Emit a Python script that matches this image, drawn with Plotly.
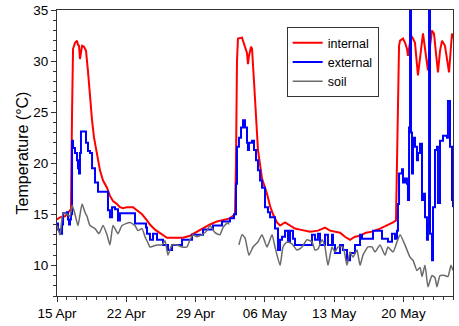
import plotly.graph_objects as go
import pandas as pd

START = pd.Timestamp("2013-04-15")

# internal temperature (days since 15 Apr, degC)
int_day = [0, 0.30, 0.81, 1.31, 1.41, 1.52, 1.62, 1.82, 2.02, 2.12,
           2.22, 2.32, 2.42, 2.53, 2.73, 2.93, 3.13, 3.33, 3.54, 3.74,
           4.04, 4.34, 4.65, 5.05, 5.35, 5.66, 6.06, 6.36, 6.67, 7.07,
           7.68, 8.08, 8.59, 9.09, 9.39, 9.90, 10.40, 10.71, 11.11, 11.41,
           12.73, 13.43, 14.14, 14.95, 15.45, 16.16, 16.97, 17.47, 17.98, 18.08,
           18.18, 18.28, 18.69, 18.99, 19.19, 19.29, 19.39, 19.60, 19.70, 19.90,
           20.10, 20.30, 20.71, 21.21, 21.52, 21.82, 22.22, 22.53, 23.03, 23.54,
           24.04, 24.55, 25.56, 26.36, 27.07, 27.58, 28.59, 29.09, 29.60, 30.10,
           30.61, 31.21, 31.82, 32.63, 33.33, 33.94, 34.24, 34.34, 34.44, 34.55,
           34.65, 34.95, 35.15, 35.35, 35.45, 35.66, 35.76, 35.96, 36.16, 36.46,
           36.77, 36.97, 37.27, 37.47, 37.68, 37.88, 38.08, 38.28, 38.48, 38.69,
           38.89, 39.19, 39.39, 39.60, 39.80, 39.90, 40.0]
int_val = [14.5, 14.7, 14.8, 15.3, 15.5, 25, 31.2, 31.8, 32.0, 31.6,
           31.5, 30.2, 31.0, 31.5, 31.4, 31.0, 29, 26.5, 24.2, 22.5,
           21, 19.3, 18.3, 17.6, 16.8, 16.3, 16.0, 15.7, 15.6, 15.7,
           15.7, 15.4, 15.0, 14.4, 14.0, 13.5, 13.2, 13.0, 12.7, 12.7,
           12.7, 12.9, 13.3, 13.7, 14.0, 14.3, 14.5, 14.6, 15.0, 20,
           30, 32.2, 32.3, 31.5, 30.8, 29.7, 30.5, 31.4, 31.2, 28,
           24, 21.3, 18.5, 17, 15.8, 15, 14.2, 13.9, 14.2, 13.9,
           13.6, 13.5, 13.3, 13.4, 13.7, 13.4, 13.2, 12.8, 12.5, 12.8,
           12.9, 13.2, 13.3, 13.6, 13.9, 14.2, 14.4, 20, 28, 31.5,
           32.0, 32.2, 31.8, 31.2, 30.5, 32, 32.5, 32.2, 31.8, 28.6,
           31, 32.7, 30.5, 29.1, 31.5, 33, 32.7, 30.5, 28.9, 31,
           32, 31.5, 30, 28.9, 31.5, 32.7, 32.2]

# external temperature
ext_day = [0, 0.10, 0.30, 0.51, 0.61, 1.01, 1.11, 1.21, 1.31, 1.41,
           1.52, 1.62, 1.82, 2.02, 2.12, 2.22, 2.32, 2.42, 2.83, 2.93,
           3.13, 3.33, 3.54, 3.84, 4.14, 4.85, 5.15, 5.35, 5.56, 5.86,
           6.16, 6.36, 7.68, 7.88, 8.69, 8.99, 9.09, 9.39, 9.70, 10.10,
           10.71, 11.21, 11.62, 12.63, 13.64, 14.75, 15.76, 16.67, 17.47, 17.88,
           18.08, 18.18, 18.38, 18.59, 18.79, 18.99, 19.19, 19.29, 19.39, 19.70,
           19.90, 20.10, 20.30, 20.51, 20.71, 21.01, 21.31, 21.52, 22.02, 22.32,
           22.53, 22.73, 23.03, 23.33, 23.54, 23.84, 24.04, 25.76, 26.06, 26.36,
           26.57, 27.07, 27.37, 27.78, 27.88, 28.08, 28.59, 28.89, 29.29, 29.60,
           30.10, 30.61, 30.81, 31.92, 32.83, 33.43, 33.84, 34.14, 34.34, 34.44,
           34.55, 34.85, 34.95, 35.15, 35.35, 35.45, 35.56, 35.66, 35.76, 35.86,
           35.96, 36.16, 36.36, 36.46, 36.67, 36.87, 36.97, 37.17, 37.37, 37.47,
           37.58, 37.68, 37.88, 37.98, 38.18, 38.38, 38.48, 38.69, 38.99, 39.39,
           39.49, 39.70, 39.90, 40.0]
ext_val = [14.1, 13.5, 13.1, 14.0, 15.1, 15.2, 14.5, 14.0, 14.5, 15,
           22.2, 21.5, 21, 20.3, 19.5, 19.0, 21, 23.1, 23.1, 22,
           21.2, 21, 19.5, 18.1, 17.2, 17.2, 15.4, 14.7, 15.7, 15.5,
           14.4, 15.1, 15.1, 14.1, 14.1, 13.7, 13.1, 12.5, 13.1, 12.5,
           12.0, 11.5, 12.0, 12.5, 13.0, 13.5, 13.9, 14.3, 14.6, 15.0,
           18, 21.6, 22.5, 23.5, 24.2, 23.5, 22, 21.3, 22, 22.2,
           21.3, 20.3, 19.3, 18.3, 17.6, 15.7, 15.2, 14.7, 13.6, 11.5,
           12.5, 12.8, 13.4, 12.3, 13.4, 12.6, 12.0, 13.0, 12.5, 13.1,
           12.0, 13.0, 12.0, 13.0, 12.0, 11.2, 12.0, 11.5, 10.5, 11.2,
           12.0, 13.0, 12.6, 13.4, 12.6, 12.3, 13.1, 12.6, 13.4, 16,
           19.0, 19.4, 18.1, 18.5, 18.0, 16.4, 23.5, 36, 23, 19,
           22.5, 21.6, 20.3, 21, 21.9, 16.4, 17, 14.7, 12.5, 14,
           36, 13.1, 10.5, 15.7, 21.3, 21.6, 16.1, 22.2, 22.7, 22.5,
           26.1, 21.6, 16.4, 15.7]

# soil temperature (None = missing record)
soil_day = [0, 0.30, 0.61, 1.01, 1.31, 1.52, 1.82, 2.12, 2.53, 2.83,
            3.03, 3.33, 3.84, 4.24, 4.65, 5.05, 5.35, 5.66, 6.16, 6.57,
            7.37, 7.88, 8.18, 8.59, 8.89, 9.19, 9.39, 10.10, 10.61, 10.91,
            11.21, 11.62, 12.12, 12.63, 13.13, 13.43, 13.74, 14.14, 14.65, 15.15,
            15.45, 15.96, 16.46, 16.77, 17.27, 17.37, 17.90, 18.38, 18.69, 18.99,
            19.39, 19.80, 20.30, 20.71, 21.21, 21.72, 22.02, 22.53, 22.83, 23.23,
            23.74, 24.24, 24.75, 25.25, 25.76, 26.06, 26.36, 26.77, 27.07, 27.37,
            27.78, 28.08, 28.38, 28.89, 29.29, 29.60, 29.90, 30.30, 30.61, 30.91,
            31.41, 31.82, 32.12, 32.63, 33.13, 33.43, 33.94, 34.34, 34.65, 35.15,
            35.66, 35.96, 36.36, 36.67, 36.87, 37.17, 37.47, 37.68, 37.88, 38.18,
            38.38, 38.69, 39.19, 39.49, 39.80, 40.0]
soil_val = [13.9, 13.0, 15.1, 15.0, 14.8, 15.9, 15.0, 13.9, 16.0, 15.2,
            14.8, 13.9, 13.6, 13.1, 13.9, 13.0, 12.0, 13.9, 13.1, 13.9,
            14.2, 13.9, 13.4, 13.6, 12.8, 12.2, 11.8, 12.0, 12.0, 12.4,
            11.0, 12.0, 12.0, 11.8, 11.8, 12.5, 13.0, 12.8, 13.0, 13.4,
            13.9, 13.2, 13.0, 13.7, 14.2, 14.0, None, 12.0, 13.0, 12.7,
            11.0, 11.8, 12.3, 13.0, 11.8, 13.0, 11.8, 10.0, 11.8, 12.3,
            12.1, 11.5, 11.8, 12.5, 12.3, 11.5, 11.6, 12.5, 11.8, 10.0,
            11.8, 11.3, 11.8, 11.8, 10.0, 11.3, 10.8, 11.5, 10.0, 11.0,
            11.8, 11.8, 11.3, 12.0, 11.0, 11.8, 11.3, 12.3, 13.0, 12.0,
            10.8, 10.5, 9.5, 9.8, 8.9, 10.0, 7.9, 8.5, 9.0, 8.8,
            7.9, 9.0, 9.0, 8.9, 10.0, 9.5]

tick_labels = ["15 Apr", "22 Apr", "29 Apr", "06 May", "13 May", "20 May"]


def to_dates(days):
    return [START + pd.Timedelta(days=d) for d in days]


fig = go.Figure()
fig.add_trace(go.Scatter(x=to_dates(int_day), y=int_val, name="internal",
                         mode="lines", line=dict(color="#ff0000", width=2)))
fig.add_trace(go.Scatter(x=to_dates(ext_day), y=ext_val, name="external",
                         mode="lines", line=dict(color="#0000ff", width=2, shape="hv")))
fig.add_trace(go.Scatter(x=to_dates(soil_day), y=soil_val, name="soil",
                         mode="lines", connectgaps=False,
                         line=dict(color="#6a6a6a", width=1.5, shape="spline", smoothing=0.5)))

tick_vals = [START + pd.Timedelta(days=7 * i) for i in range(len(tick_labels))]

fig.update_layout(
    width=459, height=326,
    margin=dict(l=57, r=6, t=10, b=30, autoexpand=False),
    paper_bgcolor="white", plot_bgcolor="white",
    font=dict(family="Liberation Sans, Arial, sans-serif", size=13.5, color="black"),
    showlegend=True,
    legend=dict(x=0.58, y=0.94, xanchor="left", yanchor="top",
                bordercolor="#333333", borderwidth=1, bgcolor="white",
                font=dict(size=12.5), itemwidth=30, tracegroupgap=0),
    xaxis=dict(type="date", automargin=False,
               range=[START, START + pd.Timedelta(days=40)],
               tickvals=tick_vals, ticktext=tick_labels,
               ticks="outside", ticklen=5, tickcolor="#333333",
               minor=dict(dtick=86400000, ticks="outside", ticklen=3, tickcolor="#333333"),
               showline=True, linecolor="#333333", linewidth=1, mirror=True,
               showgrid=False, zeroline=False),
    yaxis=dict(range=[7, 35], dtick=5, tick0=0, automargin=False,
               ticks="outside", ticklen=5, tickcolor="#333333",
               minor=dict(dtick=1, ticks="outside", ticklen=3, tickcolor="#333333"),
               showline=True, linecolor="#333333", linewidth=1, mirror=True,
               showgrid=False, zeroline=False,
               title=dict(text="Temperature (°C)", font=dict(size=16), standoff=0)),
)

fig.write_html("out.html", config={"displayModeBar": False},
               post_script="document.body.style.margin='0px';document.body.style.overflow='hidden';")
